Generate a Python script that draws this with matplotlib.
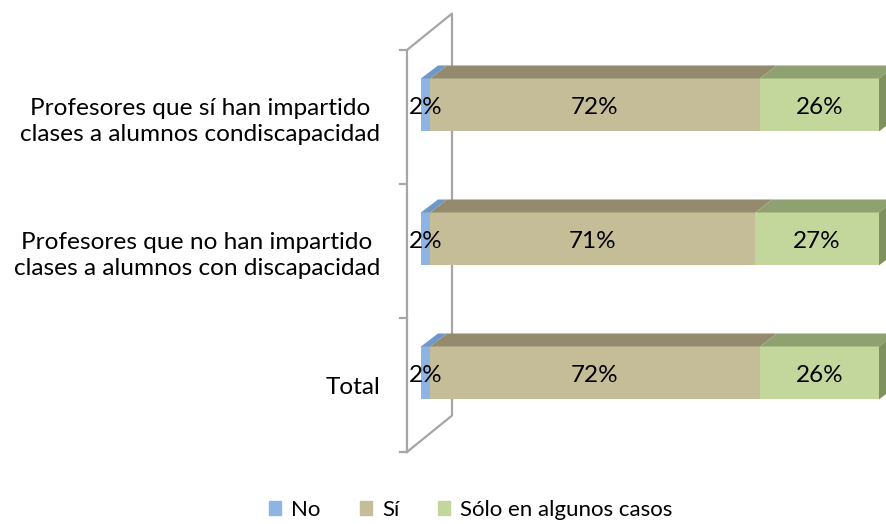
import matplotlib.pyplot as plt
from matplotlib.patches import Polygon

categories = ["Total",
              "Profesores que no han impartido\nclases a alumnos con discapacidad",
              "Profesores que sí han impartido\nclases a alumnos condiscapacidad"]
series_names = ["No", "Sí", "Sólo en algunos casos"]
no_vals = [2, 2, 2]
si_vals = [72, 71, 72]
algunos_vals = [26, 27, 26]

front_cols = ["#8DB4E2", "#C4BD97", "#C3D69B"]
top_cols = ["#6F97C9", "#948B6E", "#90A171"]
side_col = "#7E915E"
wall_col = "#A6A6A6"

plt.rcParams['font.family'] = ['Lato', 'DejaVu Sans']

fig = plt.figure(figsize=(8.86, 5.24), dpi=100)
ax = fig.add_axes([421 / 886, 1 - 452 / 524, 458 / 886, 402 / 524])
ax.set_xlim(0, 100)
ax.set_ylim(-0.5, 2.5)

# oblique "3d" offsets, in data units
ddx, ddy = 3.71, 0.097
front_shift = 0.09
bar_h = 0.395

# wall outline
wx0, wx1, wdy = -3.06, 6.77, 0.272
wall = [(wx0, -0.5), (wx0, 2.5), (wx1, 2.5 + wdy), (wx1, -0.5 + wdy), (wx0, -0.5)]
ax.plot([p[0] for p in wall], [p[1] for p in wall], color=wall_col, lw=1.6,
        clip_on=False, zorder=1)
for yt in [-0.5, 0.5, 1.5, 2.5]:
    ax.plot([-4.6, wx0], [yt, yt], color=wall_col, lw=1.6, clip_on=False, zorder=1)

ypos = [i + front_shift for i in range(len(categories))]
series = [no_vals, si_vals, algunos_vals]
for i, y in enumerate(ypos):
    left = 0
    for j, vals in enumerate(series):
        v = vals[i]
        ax.barh(y, v, left=left, height=bar_h, color=front_cols[j], zorder=3, clip_on=False)
        top = y + bar_h / 2
        ax.add_patch(Polygon([(left, top), (left + ddx, top + ddy), (left + v + ddx, top + ddy),
                              (left + v, top)], closed=True, facecolor=top_cols[j],
                             edgecolor='none', zorder=3, clip_on=False))
        ax.text(left + v / 2, y - 0.02, f"{v}%", ha='center', va='center', fontsize=17.5,
                color='black', zorder=4)
        left += v
    bot = y - bar_h / 2
    top = y + bar_h / 2
    ax.add_patch(Polygon([(left, bot), (left + ddx, bot + ddy), (left + ddx, top + ddy),
                          (left, top)], closed=True, facecolor=side_col, edgecolor='none',
                         zorder=3, clip_on=False))

# category labels sit at the middle of each slot, not on the bar face
ax.set_yticks(range(len(categories)))
ax.set_yticklabels(categories, fontsize=17.6, color='black', linespacing=1.29,
                   multialignment='center')
ax.tick_params(axis='y', length=0, pad=29.5)
ax.set_xticks([])
for s in ax.spines.values():
    s.set_visible(False)

handles = [plt.Rectangle((0, 0), 1, 1, color=c) for c in front_cols]
fig.legend(handles, series_names, loc='center', bbox_to_anchor=(471 / 886, 1 - 510 / 524),
           ncol=3, frameon=False, fontsize=16, handlelength=0.55, handleheight=0.55,
           handletextpad=0.45, columnspacing=1.75, borderpad=0)

fig.savefig("out.png", dpi=100)
